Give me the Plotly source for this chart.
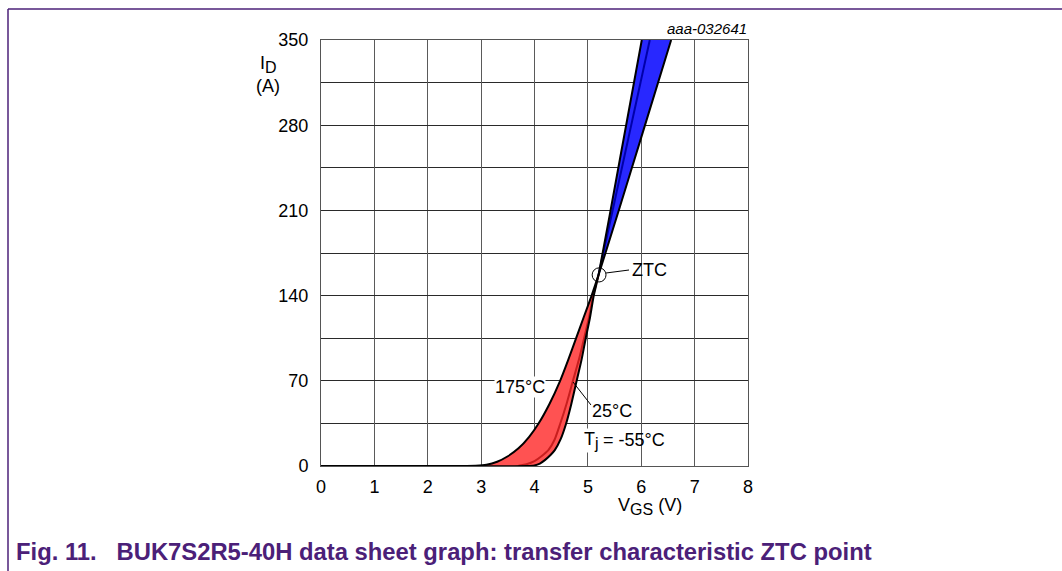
import plotly.graph_objects as go
import numpy as np

# ---- data ----
V_175 = [0, 2.6, 2.9, 3.1, 3.3, 3.5, 3.7, 3.9, 4.07, 4.28, 4.48, 4.63, 4.78, 4.92, 5.07, 5.2, 5.6, 6.0, 6.56]
I_175 = [0, 0, 0.2, 1, 3.5, 8, 14.5, 24, 34.5, 51, 70, 87, 105, 122, 140, 157, 213, 270, 350]

V_25 = [0, 3.5, 3.7, 3.85, 4.0, 4.13, 4.26, 4.38, 4.48, 4.6, 4.72, 4.83, 4.93, 5.02, 5.1, 5.2, 5.6, 6.16]
I_25 = [0, 0, 0.3, 1.5, 4, 8, 13, 22, 34.5, 51, 70, 87, 105, 122, 140, 157, 237, 350]

V_m55 = [0, 3.85, 4.0, 4.1, 4.2, 4.3, 4.38, 4.49, 4.59, 4.69, 4.79, 4.88, 4.96, 5.04, 5.11, 5.2, 5.6, 6.01]
I_m55 = [0, 0, 0.5, 2, 5, 9, 13, 22, 34.5, 51, 70, 87, 105, 122, 140, 157, 252, 350]

ZTC_V, ZTC_I = 5.21, 157

x_ticks = [0, 1, 2, 3, 4, 5, 6, 7, 8]
y_ticks = [0, 70, 140, 210, 280, 350]

# ---- layout helpers (pixel -> paper) ----
L, R, T, B = 321, 748, 40, 466
W, H = 1062, 571
def px(x): return (x - L) / (R - L)
def py(y): return (B - y) / (B - T)

v175, i175 = np.array(V_175), np.array(I_175)
vm, im = np.array(V_m55), np.array(I_m55)

lo175 = i175 <= ZTC_I
lom = im <= ZTC_I
hi175 = i175 >= ZTC_I
him = im >= ZTC_I

fig = go.Figure()

# red region (below ZTC)
fig.add_trace(go.Scatter(
    x=list(v175[lo175]) + list(vm[lom][::-1]),
    y=list(i175[lo175]) + list(im[lom][::-1]),
    fill="toself", fillcolor="rgb(255,82,82)", mode="lines",
    line=dict(width=0, shape="spline", smoothing=0.6), hoverinfo="skip", showlegend=False))
# blue region (above ZTC)
fig.add_trace(go.Scatter(
    x=list(v175[hi175]) + list(vm[him][::-1]),
    y=list(i175[hi175]) + list(im[him][::-1]),
    fill="toself", fillcolor="rgb(40,40,255)", mode="lines",
    line=dict(width=0), hoverinfo="skip", showlegend=False))

# 25 °C inner line (two coloured parts)
v25, i25 = np.array(V_25), np.array(I_25)
m_lo = (i25 <= ZTC_I) & (i25 > 0)
fig.add_trace(go.Scatter(x=v25[m_lo], y=i25[m_lo], mode="lines",
                         line=dict(color="rgb(200,30,30)", width=2, shape="spline", smoothing=0.6),
                         hoverinfo="skip", showlegend=False))
fig.add_trace(go.Scatter(x=v25[i25 >= ZTC_I], y=i25[i25 >= ZTC_I], mode="lines",
                         line=dict(color="rgb(0,0,170)", width=2),
                         hoverinfo="skip", showlegend=False))

# edge curves
fig.add_trace(go.Scatter(x=V_175, y=I_175, mode="lines",
                         line=dict(color="black", width=2, shape="spline", smoothing=0.6),
                         hoverinfo="skip", showlegend=False))
fig.add_trace(go.Scatter(x=V_m55, y=I_m55, mode="lines",
                         line=dict(color="black", width=2, shape="spline", smoothing=0.6),
                         hoverinfo="skip", showlegend=False))

FONT = "Liberation Sans, Arial, sans-serif"

fig.update_layout(
    width=W, height=H,
    margin=dict(l=L, r=W - R, t=T, b=H - B, pad=0),
    paper_bgcolor="white", plot_bgcolor="white",
    font=dict(family=FONT, size=18, color="black"),
    xaxis=dict(range=[0, 8], tickvals=x_ticks, ticktext=[str(v) for v in x_ticks],
               showgrid=True, gridcolor="#5a5a5a", gridwidth=1, zeroline=False,
               showline=True, linecolor="#555", linewidth=1, mirror=True,
               ticks="", ticklabelstandoff=4, fixedrange=True),
    yaxis=dict(range=[0, 350], tickvals=y_ticks, ticktext=[str(v) for v in y_ticks],
               showgrid=True, gridcolor="#2a2a2a", gridwidth=1, zeroline=False,
               showline=True, linecolor="#555", linewidth=1, mirror=True,
               minor=dict(dtick=35, showgrid=True, gridcolor="#2a2a2a", gridwidth=1),
               ticks="", ticklabelstandoff=8, fixedrange=True),
)

# ZTC circle
fig.add_shape(type="circle", xref="x", yref="y",
              x0=ZTC_V - 0.13, x1=ZTC_V + 0.13, y0=ZTC_I - 5.8, y1=ZTC_I + 5.8,
              line=dict(color="black", width=1))
# ZTC leader
fig.add_shape(type="line", xref="paper", yref="paper",
              x0=px(606), y0=py(273), x1=px(629), y1=py(270),
              line=dict(color="black", width=1))

# frame lines around figure
purple = "#4b2078"
fig.add_shape(type="line", xref="paper", yref="paper",
              x0=px(8), y0=py(9), x1=px(1062), y1=py(9), line=dict(color=purple, width=1.5))
fig.add_shape(type="line", xref="paper", yref="paper",
              x0=px(8), y0=py(9), x1=px(8), y1=py(571), line=dict(color=purple, width=1.5))

def ann(text, x, y, size=18, xanchor="center", bg=None, **kw):
    fig.add_annotation(text=text, xref="paper", yref="paper", x=px(x), y=py(y),
                       xanchor=xanchor, yanchor="middle", showarrow=False,
                       font=dict(family=kw.pop("family", FONT), size=size, color=kw.pop("color", "black")),
                       bgcolor=bg, borderpad=0, **kw)

ann("175°C", 520, 387, bg="white")
ann("25°C", 612, 411, bg="white")
ann("T<sub><span style='font-size:16px'>j</span></sub>", 583, 440, xanchor="left", bg="white")
ann(" = -55°C", 597, 440, xanchor="left")
ann("ZTC", 649, 270)
# 25°C leader (drawn after the label backgrounds)
fig.add_shape(type="line", xref="paper", yref="paper",
              x0=px(573), y0=py(382), x1=px(591), y1=py(405),
              line=dict(color="black", width=1))
ann("<i>aaa-032641</i>", 748, 29, size=15, xanchor="right")
ann("I<sub><span style='font-size:16px'>D</span></sub>", 268, 64)
ann("(A)", 268, 86)
ann("V<sub><span style='font-size:16px'>GS</span></sub> (V)", 650, 506)
ann("<b>Fig. 11.   BUK7S2R5-40H data sheet graph: transfer characteristic ZTC point</b>", 15, 551,
    size=23.8, xanchor="left", color="#4b2078")

fig.write_html("out.html")
